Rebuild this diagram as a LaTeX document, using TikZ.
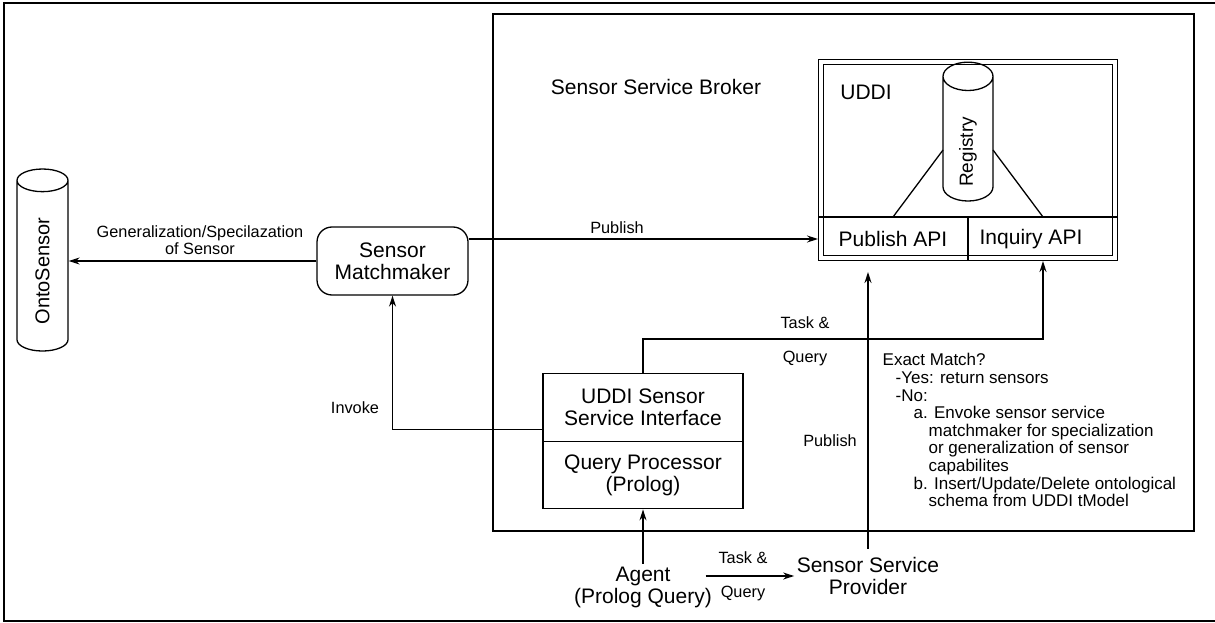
\documentclass[tikz,border=0pt]{standalone}
\usepackage{fontspec}
\usepackage{graphicx}
\setmainfont{Liberation Sans}
\usetikzlibrary{arrows.meta, shapes.geometric, calc, positioning}

\begin{document}
\begin{tikzpicture}[x=1pt, y=-1pt, line width=1.3pt, >={Stealth[length=11pt,width=7pt]},
  bigtxt/.style={font=\fontsize{21}{22}\selectfont, align=center},
  smalltxt/.style={font=\fontsize{16.3}{17.3}\selectfont},
  db/.style={cylinder, draw, shape border rotate=90, aspect=1.6, inner sep=0pt}]
\useasboundingbox (0,0) rectangle (1215,623);
% frame
\draw[line width=2.5pt] (1215,3) -- (4,3) -- (4,621) -- (1215,621);

% broker
\node (broker) [draw, minimum width=701, minimum height=517, inner sep=0] at (843.5,272.5) {};
\node[bigtxt] (brokerlbl) at (656,87) {Sensor Service Broker};

% UDDI registry
\node (uddi) [draw, double, double distance=3.5pt, outer sep=3.05pt, minimum width=293.9, minimum height=195.9] at (968,160) {};
\node[bigtxt] (uddilbl) at (866,92) {UDDI};
\node[db, minimum width=50, minimum height=132, font=\fontsize{19}{20}\selectfont] (registry) at (968,139) {\rotatebox{90}{Registry\hspace*{26pt}}};
\node[bigtxt] (pubapi) at (893,239) {Publish API};
\node[bigtxt] (inqapi) at (1031,239) {Inquiry API};
\draw ($(uddi.west)+(0,57)$) -- ($(uddi.east)+(0,57)$);
\draw ($(uddi.south)+(0,-44)$) -- (uddi.south);
\draw ($(registry.center)+(-25,11)$) -- ($(pubapi)+(0,-22)$);
\draw ($(registry.center)+(25,11)$) -- ($(inqapi)+(12,-22)$);

% ontology
\node[db, minimum width=51, minimum height=182, font=\fontsize{20}{22}\selectfont] (onto) at (42.5,266) {\rotatebox{90}{OntoSensor\hspace*{10pt}}};

% matchmaker
\node[draw, rounded corners=15pt, minimum width=151, minimum height=68, bigtxt] (match) at (392.5,261) {Sensor\\Matchmaker};
\draw[->] (match.west) -- (match.west -| onto.east);
\node[smalltxt, align=center] (genlbl) at (200,240) {Generalization/Specilazation\\of Sensor};
\draw[->] (match.east |- pubapi) -- (uddi.west |- pubapi);
\node[smalltxt] (publbl) at (617,228) {Publish};

% interface
\node[draw, bigtxt, minimum width=200, minimum height=67.5] (iface) at (643,407.5) {UDDI Sensor\\Service Interface};
\node[draw, bigtxt, minimum width=200, minimum height=67.5, below=-1.3pt of iface] (qproc) {Query Processor\\(Prolog)};
\draw[->] ($(iface.west)+(0,22)$) -| (match.south);
\node[smalltxt] (invlbl) at (355,408) {Invoke};

\coordinate (inqin) at (1043,261);
\draw[->] (iface.north) -- ++(0,-34) -| (inqin);
\node[smalltxt] (tq1) at (805,323) {Task \&};
\node[smalltxt] (tq2) at (805,358) {Query};

% agent and provider
\node[bigtxt, inner sep=2pt] (agent) at (643,587) {Agent\\(Prolog Query)};
\node[bigtxt, inner sep=2pt] (prov) at (868,576) {Sensor Service\\Provider};
\draw[->] (agent.north) -- (qproc.south);
\draw[->] ($(agent.east |- prov)+(-9,0)$) -- (prov.west);
\node[smalltxt] (tq3) at (743,558) {Task \&};
\node[smalltxt] (tq4) at (743,593) {Query};
\draw[->] ($(prov.north)+(0,-6)$) -- ($(uddi.south -| prov.north)+(0,11)$);
\node[smalltxt] (publbl2) at (830,441) {Publish};

% matching rules
\node[font=\fontsize{17}{17.6}\selectfont, align=left, anchor=north west, inner sep=0] (exact) at (882,353) {Exact Match?\\
\hspace*{13pt}-Yes: return sensors\\
\hspace*{13pt}-No:\\
\hspace*{31pt}a. Envoke sensor service\\
\hspace*{46pt}matchmaker for specialization\\
\hspace*{46pt}or generalization of sensor\\
\hspace*{46pt}capabilites\\
\hspace*{31pt}b. Insert/Update/Delete ontological\\
\hspace*{46pt}schema from UDDI tModel};
\end{tikzpicture}
\end{document}
